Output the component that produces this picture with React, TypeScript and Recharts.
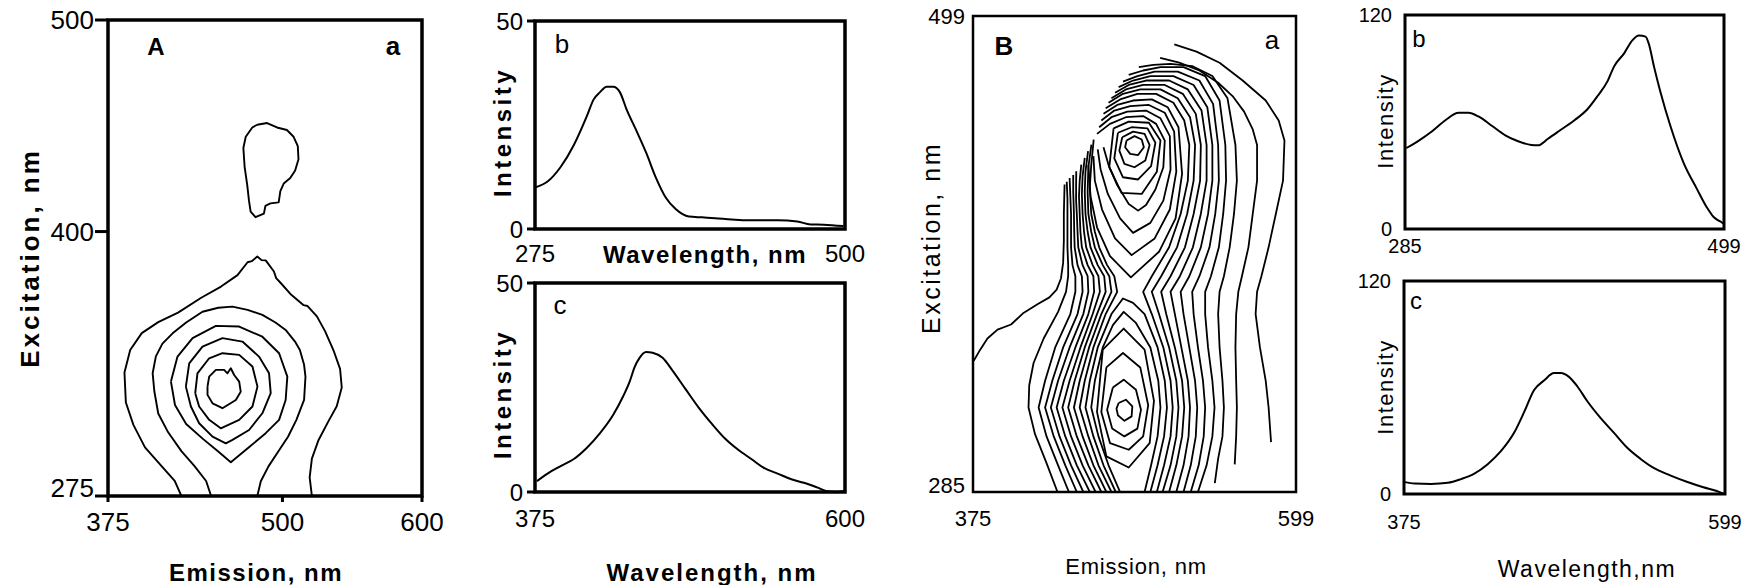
import { ComposedChart, Line, XAxis, YAxis, ReferenceArea, Label } from "recharts";

type Pt = [number, number];

// ---------- panel A(a): emission x excitation contour map
const A_EM_TICKS = [375, 500, 600];
const A_EX_TICKS = [275, 400, 500];

const A_ISLAND: Pt[] = [[481.9, 450.5], [489, 451.3], [496.1, 449.2], [503.2, 448], [508, 444.8], [511, 440.4], [511.5, 434.2], [509.1, 428.9], [505.6, 425.3], [500.9, 422.7], [498.5, 419.1], [497.3, 413.8], [491.4, 413.3], [487.8, 412.1], [486.7, 408.5], [480.7, 406.8], [477.2, 409.4], [476, 414.7], [474.8, 421.8], [472.9, 430.6], [472, 439.5], [473.7, 444.8], [478.4, 449.2], [481.9, 450.5]];
const A_C1: Pt[] = [[427.6, 275], [422.8, 282.1], [413.4, 289.1], [401.5, 298], [393.2, 308.6], [387.8, 319.2], [386.8, 333.4], [390.9, 344], [399.2, 352], [411, 357.2], [425.2, 361.7], [441.8, 368.7], [456, 374], [467.8, 379.4], [475, 385.5], [478, 386], [482, 388.2], [485, 386.5], [488, 386.4], [493.9, 381.1], [495.5, 378], [498.6, 375.8], [505.7, 370.5], [515.2, 365.2], [518, 364.8], [524.7, 359.9], [530.6, 352.8], [536.5, 344], [541.3, 335.1], [542.5, 326.3], [538.9, 317.4], [533, 310.4], [525.9, 301.5], [521.1, 292.7], [519.5, 283.8], [521.1, 275]];
const A_C2: Pt[] = [[448.9, 275], [445.3, 282.1], [437, 289.1], [427.6, 296.2], [418.1, 305.1], [411, 314], [408.2, 324.5], [407, 333], [409.3, 341], [414, 347], [421.3, 351.9], [431, 357], [442.7, 362.1], [454, 364], [464.2, 364.5], [475, 363], [485.6, 360.6], [495, 357], [502.3, 353.5], [509, 348], [512.5, 344], [515.5, 337], [516.5, 331.4], [515.5, 320.4], [510, 311], [504, 303], [497, 296], [490, 289], [484.5, 282], [482, 275]];
const A_C3: Pt[] = [[420.1, 329.1], [424.8, 340.9], [435.6, 349.6], [452.3, 355.4], [469, 355.1], [485.6, 350.3], [497.6, 342.5], [503.5, 331.4], [502.3, 320.4], [497.6, 311], [488, 304.7], [476, 298], [463, 291], [454, 296], [443, 302], [431, 309], [423, 318], [420.1, 329.1]];
const A_C4: Pt[] = [[430.8, 326.7], [433.2, 337.7], [442.7, 345.6], [457, 349.6], [471.3, 348], [483.2, 340.9], [490.4, 333], [491.6, 323.6], [485.6, 314.1], [476.1, 306.2], [464.2, 301.5], [459.4, 299.9], [449.9, 303.1], [440.3, 309.4], [434.4, 317.3], [430.8, 326.7]];
const A_C5: Pt[] = [[437.5, 323.6], [439.1, 333], [447.5, 340.1], [457, 342.5], [469, 341.7], [478.5, 336.2], [482.1, 326.7], [478.5, 317.3], [469, 311], [455.8, 307], [447.5, 311], [440.3, 317.3], [437.5, 323.6]];
const A_C6: Pt[] = [[446.3, 326.7], [447.5, 331.4], [452.3, 334.6], [458.2, 334.6], [460.6, 333], [463, 335.4], [465.4, 332.2], [469, 329.1], [470.1, 324.3], [466.6, 320.4], [457, 316.5], [449.9, 318.8], [446.3, 322.8], [446.3, 326.7]];

// ---------- panel A(b), A(c): spectra
const AB_WL = [275.5, 284.1, 293.6, 303.2, 312.7, 317.5, 322.2, 327, 331.8, 336.6, 341.3, 348.5, 355.6, 362.8, 370, 377.1, 386.7, 396.2, 405.8, 417.7, 429.6, 451.1, 465.4, 475, 484.5, 498.8];
const AB_INT = [10, 11.4, 14.9, 20.2, 27.2, 31.1, 32.9, 34.2, 34.2, 32.9, 28.9, 23.7, 18.4, 12.3, 7.5, 4.8, 3.0, 2.8, 2.6, 2.3, 2.1, 2.1, 1.8, 1.1, 1.05, 0.7];
const AC_WL = [376.4, 384.1, 393.6, 403.2, 412.7, 422.2, 431.8, 439, 443.7, 447.3, 450.9, 455.6, 460.4, 467.6, 474.7, 484.3, 493.8, 503.4, 512.9, 522.5, 532, 541.5, 551.1, 560.6, 570.2, 579.7, 586.9, 594, 598.8];
const AC_INT = [2.6, 4.4, 6.2, 7.9, 10.6, 14.1, 18.5, 22.9, 26.4, 29.9, 32.1, 33.5, 33.3, 32.1, 29.1, 24.6, 20.2, 16.3, 12.8, 10.1, 7.9, 5.7, 4.4, 3.1, 2.2, 1.1, 0.2, 0, 0.2];

// ---------- panel B(a): contour map
const B_U1: Pt[] = [[481.5, 443], [487, 445], [492, 443.5], [493.5, 440], [489.5, 436.5], [484, 437], [480.5, 440], [481.5, 443]];
const B_U2: Pt[] = [[478.5, 444.5], [486, 447], [494, 446], [497.5, 441], [494.5, 434], [487, 431], [480, 432.5], [476.5, 438.5], [478.5, 444.5]];
const B_U3: Pt[] = [[475.5, 446.5], [485, 449], [496, 448.5], [501.5, 442], [498.5, 431.5], [489.5, 425.5], [479, 426.5], [473, 435], [475.5, 446.5]];
const B_U4: Pt[] = [[472.5, 448.5], [483, 451.5], [497, 451], [505, 443], [502.5, 429], [492, 419], [478, 419.5], [469.5, 431], [472.5, 448.5]];
const B_U5: Pt[] = [[461, 446], [470, 450.5], [481, 453.5], [493, 454], [502, 450.5], [508, 443], [507, 431], [501.5, 421], [495, 414], [489.5, 411.5], [483, 414.5], [475, 423], [469, 432], [465.5, 440]];
const B_U6: Pt[] = [[462.5, 449], [471, 453.5], [482, 456], [495, 456.5], [505, 453], [511.5, 445], [512, 430], [507, 416], [498, 406], [486, 401.5], [477, 408], [468.5, 419], [463.5, 430], [461.5, 439]];
const B_U7: Pt[] = [[464, 452], [473, 456.5], [484, 458.5], [497, 459], [508, 455.5], [514.5, 447], [516, 429], [511.5, 412], [501, 399], [485, 391.5], [473.5, 399], [464.5, 412], [459.5, 425], [458.5, 436]];
const B_U8: Pt[] = [[465.5, 455], [475, 459], [486, 461], [499, 461.5], [510, 458], [517.5, 449], [520, 428], [515.5, 408], [504, 393], [484.5, 381.5], [470, 391], [461, 404], [456.5, 418], [455, 432]];

const B_E1R: Pt[] = [[467, 457.5], [477, 461.5], [489, 464], [502, 464], [514, 460], [521.5, 452], [525, 441], [524, 425], [519, 410], [511, 395], [499, 382], [493, 375], [499, 365], [507, 350], [512, 335], [513.5, 323], [512, 310], [507.5, 297], [502.5, 285]];
const B_E2R: Pt[] = [[469, 460], [479, 464], [491, 466], [505, 466], [517, 462], [525.5, 453.5], [529, 441], [528, 425], [523.5, 410], [516.5, 395], [505.5, 382], [499, 375], [504, 365], [511, 350], [516, 335], [517.5, 323], [516, 310], [512, 297], [506.5, 285]];
const B_E3R: Pt[] = [[471, 462], [481, 466], [493, 468], [508, 468], [520.5, 464], [529.5, 455], [533, 441], [532.5, 425], [528, 410], [522, 395], [512, 382], [505.5, 375], [509, 365], [515, 350], [520, 335], [521.5, 323], [520, 310], [516, 297], [511, 285]];
const B_E4R: Pt[] = [[473.5, 464.5], [483, 468], [495, 470], [511, 470], [524, 466], [533.5, 456.5], [537, 441], [537, 425], [533, 410], [527.5, 395], [518.5, 382], [512, 375], [515, 365], [519.5, 350], [524, 335], [525.5, 323], [524.5, 310], [521, 297], [516, 285]];
const B_E5R: Pt[] = [[476, 467], [486, 470], [498, 472], [514, 472], [528, 468], [537.5, 458], [541, 441], [541, 425], [538, 410], [533, 395], [525, 382], [519, 375], [521, 365], [525, 350], [529, 335], [530.5, 323], [529.5, 310], [526, 297], [521, 285]];
const B_E6R: Pt[] = [[479, 469.5], [489, 472], [501, 474], [517, 474], [532, 470], [541.5, 459.5], [545, 441], [545.5, 425], [543, 410], [539, 395], [532, 382], [527, 375], [528, 365], [531, 350], [534.5, 335], [536, 323], [535, 310], [531.5, 297], [526, 285]];
const B_E7R: Pt[] = [[483, 472.5], [493, 474.5], [505, 476], [521, 476], [536, 472], [546, 461], [550, 441], [550.5, 425], [548.5, 410], [545.5, 395], [540, 382], [536, 375], [536, 365], [538, 350], [541, 335], [542.5, 323], [541, 310], [537, 297], [531, 285]];
const B_E8R: Pt[] = [[490, 476], [500, 477], [512, 477.5], [527, 476.5], [541, 472], [551.5, 462], [557, 441], [558, 425], [556, 410], [553, 395], [549, 382], [546, 375], [545, 365], [546, 350], [548, 335], [549, 323], [548, 310], [545, 300], [542.7, 289]];
const B_E9R: Pt[] = [[504.8, 480.2], [518, 478], [532, 474.5], [545, 469], [555, 463], [563, 456], [569, 448], [572, 441], [572, 425], [569, 410], [566, 395], [561.5, 382], [559, 375], [557.5, 365], [557, 350], [557.5, 335], [558, 323], [557.5, 310], [556.5, 297.4]];
const B_E10R: Pt[] = [[514.6, 486.2], [530, 483], [546, 478], [562, 470], [578, 461], [587, 452], [591, 443], [590, 425], [585, 410], [580, 395], [575, 382], [572, 375], [571, 365], [574, 350], [578, 335], [580, 323], [581.7, 307.4]];

const B_E1L: Pt[] = [[458.7, 443.4], [457, 432], [456, 422], [457, 410], [459.5, 402], [462.5, 395], [468, 387], [473, 382], [475, 375], [467, 365], [458.5, 350], [452.5, 335], [449, 323], [455, 310], [462, 297], [471, 285]];
const B_E2L: Pt[] = [[457.1, 441.2], [455, 431], [454.5, 420], [455, 410], [457, 402], [459.5, 395], [465, 387], [469.5, 382], [471, 375], [464, 365], [455.5, 350], [449, 335], [445, 323], [451, 310], [458.5, 297], [467.5, 285]];
const B_E3L: Pt[] = [[454.8, 438.2], [453, 429], [452.5, 420], [453, 410], [454.5, 402], [456.5, 395], [461.5, 387], [466, 382], [467, 375], [461, 365], [452.5, 350], [445.5, 335], [441, 323], [447, 310], [455, 297], [464, 285]];
const B_E4L: Pt[] = [[452.5, 435.2], [451, 427], [450.5, 419], [451, 410], [452, 402], [453.5, 395], [458, 387], [462, 382], [463, 375], [458, 365], [449.5, 350], [442, 335], [437, 323], [443, 310], [451, 297], [460, 285]];
const B_E5L: Pt[] = [[450.1, 432.2], [449, 425], [448.5, 418], [449, 410], [449.5, 402], [450.5, 395], [454.5, 387], [458.5, 382], [459, 375], [455, 365], [446, 350], [438, 335], [433, 323], [439, 310], [447, 297], [456, 285]];
const B_E6L: Pt[] = [[446.6, 429.2], [446.5, 422], [446.5, 416], [447, 410], [447.5, 402], [448, 395], [451, 387], [454.5, 382], [455, 375], [451.5, 365], [442, 350], [434, 335], [429, 323], [435, 310], [443, 297], [451.5, 285]];
const B_E7L: Pt[] = [[444.5, 427.5], [444.5, 420], [445, 410], [445.2, 402], [445.5, 395], [447.5, 387], [450.5, 382], [451, 375], [447.5, 365], [437.5, 350], [430, 335], [425, 323], [431, 310], [439, 297], [447, 285]];
const B_E8L: Pt[] = [[442, 426.2], [442.5, 418], [443, 410], [443, 402], [443, 395], [444, 387], [446, 382], [446, 375], [442.5, 365], [432, 350], [425, 335], [420.5, 323], [426, 310], [434, 297], [441.5, 285]];
const B_E9L: Pt[] = [[440, 424.5], [440.5, 417], [440.5, 410], [440.5, 402], [440.5, 395], [441, 387], [441, 382], [439.5, 375], [434, 366], [424, 354], [417, 343], [414, 333], [413.5, 323], [418, 311], [426, 298], [433.6, 285]];
const B_E10L: Pt[] = [[438.5, 423.2], [438, 410], [438, 398], [437.5, 388], [436, 381], [433, 376], [428, 372.5], [420, 369.5], [410, 365.5], [401.4, 360.3], [392, 358], [385, 354], [380, 349], [375.5, 344]];

const B_LW1: Pt[] = [[476, 325], [481, 326.5], [485.5, 323.5], [485, 319], [480, 317], [475.5, 319.5], [474.5, 322.5], [476, 325]];
const B_LW2: Pt[] = [[472, 332], [479.5, 335.5], [488, 331], [491.5, 322], [489, 313.5], [480, 310], [471.5, 313.5], [468, 322], [472, 332]];
const B_LW3: Pt[] = [[467.5, 341], [479, 347.5], [491, 341], [496.5, 324], [493, 310], [483, 304], [470, 307], [464, 321], [467.5, 341]];
const B_LW4: Pt[] = [[465, 349], [479.5, 358.5], [494, 349], [500.5, 326], [497.5, 307], [483, 296], [467.5, 301], [461, 321], [465, 349]];
const B_LO1: Pt[] = [[477, 285], [469, 297], [462, 310], [457, 323], [459.5, 335], [465, 350], [472, 360], [479.5, 366], [488, 361], [498, 350], [503.5, 335], [505, 323], [503, 310], [498.5, 297], [494, 285]];
const B_LO2: Pt[] = [[474, 285], [465.5, 297], [458.5, 310], [453, 323], [456, 335], [461.5, 350], [471, 365], [479, 372], [486, 370], [494, 365], [503, 350], [508, 335], [509.5, 323], [507.5, 310], [503, 297], [498, 285]];

// ---------- panel B(b), B(c): spectra
const BB_WL = [285.9, 294.3, 303.2, 312.1, 321, 327.6, 334.3, 343.2, 352, 360.9, 369.8, 374.2, 380.9, 389.8, 398.7, 407.5, 414.2, 420.9, 425.3, 432, 437.5, 442, 446.4, 448.6, 452, 456.4, 463, 471.9, 480.8, 487.5, 491.9, 495.2, 497.5, 498.6];
const BB_INT = [45.4, 49.6, 54.8, 61, 65.2, 65.2, 63.1, 57.9, 52.7, 49.2, 47.1, 46.9, 50.6, 55.8, 61, 67.3, 74.6, 82.9, 91.2, 98.5, 105.8, 108.5, 107.9, 103.7, 91.2, 76.7, 57.9, 37.1, 22.5, 12.1, 6.9, 4.8, 3.7, 3.1];
const BC_WL = [375.5, 382.4, 394, 405.6, 414.8, 424.1, 433.4, 442.6, 451.9, 458.8, 465.8, 472.7, 479.7, 484.3, 490.1, 495.9, 502.8, 512.1, 521.4, 530.6, 539.9, 549.2, 560.7, 572.3, 583.9, 593.2, 598.3];
const BC_INT = [6.7, 5.9, 5.7, 6.3, 8.4, 11.5, 16.8, 24.1, 34.6, 46.1, 58.6, 63.9, 68.1, 68.1, 66, 60.7, 52.4, 42.9, 34.6, 26.2, 19.9, 14.7, 10.5, 6.9, 3.8, 1.7, 0];

const W = 1748;
const H = 585;
const YW = 60;
const XH = 40;
const FONT = "'Liberation Sans', Arial, sans-serif";

type Box = { l: number; r: number; t: number; b: number };
type Txt = { s: string; x: number; y: number; size: number; bold?: boolean; rot?: boolean; ls?: number };

const toPts = (pts: Pt[]) => pts.map(([x, y]) => ({ x, y }));
const zip = (xs: number[], ys: number[]) => xs.map((x, i) => ({ x, y: ys[i] }));

function textLabel(t: Txt, key: string) {
  return (
    <Label
      key={key}
      content={() => (
        <text
          x={t.x}
          y={t.y}
          textAnchor="middle"
          dominantBaseline="central"
          fontFamily={FONT}
          fontSize={t.size}
          fontWeight={t.bold ? 700 : 400}
          letterSpacing={t.ls ?? 0}
          fill="#000"
          transform={t.rot ? `rotate(-90 ${t.x} ${t.y})` : undefined}
        >
          {t.s}
        </text>
      )}
    />
  );
}

interface PanelProps {
  box: Box;
  xDomain: [number, number];
  yDomain: [number, number];
  xTicks: number[];
  yTicks: number[];
  series: { x: number; y: number }[][];
  curve: "linear" | "monotone";
  frame: number;
  lineWidth: number;
  tickFont: number;
  xTickSize: number;
  xTickMargin: number;
  yTickSize: number;
  yTickMargin: number;
  lowLift?: number;
  texts: Txt[];
}

function Panel(p: PanelProps) {
  const lift = p.lowLift ?? 0;
  return (
    <div style={{ position: "absolute", left: 0, top: 0 }}>
      <ComposedChart
        width={W}
        height={H}
        margin={{ top: p.box.t, left: p.box.l - YW, right: W - p.box.r, bottom: H - p.box.b - XH }}
      >
        <XAxis
          type="number"
          dataKey="x"
          domain={p.xDomain}
          ticks={p.xTicks}
          interval={0}
          allowDataOverflow
          axisLine={false}
          height={XH}
          tickSize={p.xTickSize}
          tickLine={p.xTickSize > 0 ? { stroke: "#000", strokeWidth: 3 } : false}
          tickMargin={p.xTickMargin}
          tick={{ fontSize: p.tickFont, fill: "#000", fontFamily: FONT }}
        />
        <YAxis
          type="number"
          dataKey="y"
          domain={p.yDomain}
          ticks={p.yTicks}
          interval={0}
          allowDataOverflow
          axisLine={false}
          width={YW}
          tickSize={p.yTickSize}
          tickLine={p.yTickSize > 0 ? { stroke: "#000", strokeWidth: 3 } : false}
          tickMargin={p.yTickMargin}
          tick={(t: any) => (
            <text
              x={t.x}
              y={t.y - (t.payload.value === p.yDomain[0] ? lift : 0)}
              textAnchor="end"
              dominantBaseline="central"
              fontFamily={FONT}
              fontSize={p.tickFont}
              fill="#000"
            >
              {t.payload.value}
            </text>
          )}
        />
        {p.series.map((d, i) => (
          <Line
            key={i}
            data={d}
            dataKey="y"
            type={p.curve}
            dot={false}
            activeDot={false}
            stroke="#000"
            strokeWidth={p.lineWidth}
            strokeLinejoin="round"
            isAnimationActive={false}
          />
        ))}
        <ReferenceArea
          x1={p.xDomain[0]}
          x2={p.xDomain[1]}
          y1={p.yDomain[0]}
          y2={p.yDomain[1]}
          fill="none"
          fillOpacity={0}
          stroke="#000"
          strokeWidth={p.frame}
          ifOverflow="visible"
        >
          {p.texts.map((t, i) => textLabel(t, `t${i}`))}
        </ReferenceArea>
      </ComposedChart>
    </div>
  );
}

export default function App() {
  const aContours = [A_ISLAND, A_C1, A_C2, A_C3, A_C4, A_C5, A_C6].map(toPts);
  const bContours = [
    B_U1, B_U2, B_U3, B_U4, B_U5, B_U6, B_U7, B_U8,
    B_E1R, B_E2R, B_E3R, B_E4R, B_E5R, B_E6R, B_E7R, B_E8R, B_E9R, B_E10R,
    B_E1L, B_E2L, B_E3L, B_E4L, B_E5L, B_E6L, B_E7L, B_E8L, B_E9L, B_E10L,
    B_LW1, B_LW2, B_LW3, B_LW4, B_LO1, B_LO2,
  ].map(toPts);

  return (
    <div style={{ position: "relative", width: W, height: H, background: "#fff", overflow: "hidden" }}>
      <style>{"body{margin:0;background:#fff}"}</style>

      <Panel
        box={{ l: 108, r: 422, t: 20, b: 496 }}
        xDomain={[375, 600]}
        yDomain={[275, 500]}
        xTicks={A_EM_TICKS}
        yTicks={A_EX_TICKS}
        series={aContours}
        curve="linear"
        frame={3.5}
        lineWidth={1.9}
        tickFont={26}
        xTickSize={6}
        xTickMargin={11}
        yTickSize={13}
        yTickMargin={1}
        lowLift={8}
        texts={[
          { s: "Excitation, nm", x: 30, y: 258, size: 26, bold: true, rot: true, ls: 3 },
          { s: "Emission, nm", x: 256, y: 572, size: 24, bold: true, ls: 1.5 },
          { s: "A", x: 156, y: 46, size: 24, bold: true },
          { s: "a", x: 393, y: 46, size: 26, bold: true },
        ]}
      />

      <Panel
        box={{ l: 535, r: 845, t: 21, b: 229 }}
        xDomain={[275, 500]}
        yDomain={[0, 50]}
        xTicks={[275, 500]}
        yTicks={[0, 50]}
        series={[zip(AB_WL, AB_INT)]}
        curve="monotone"
        frame={3.5}
        lineWidth={2}
        tickFont={24}
        xTickSize={0}
        xTickMargin={16}
        yTickSize={8}
        yTickMargin={4}
        texts={[
          { s: "Intensity", x: 502, y: 132, size: 24, bold: true, rot: true, ls: 3.5 },
          { s: "Wavelength, nm", x: 705, y: 254, size: 24, bold: true, ls: 1.5 },
          { s: "b", x: 562, y: 44, size: 26 },
        ]}
      />

      <Panel
        box={{ l: 535, r: 845, t: 283, b: 492 }}
        xDomain={[375, 600]}
        yDomain={[0, 50]}
        xTicks={[375, 600]}
        yTicks={[0, 50]}
        series={[zip(AC_WL, AC_INT)]}
        curve="monotone"
        frame={3.5}
        lineWidth={2}
        tickFont={24}
        xTickSize={0}
        xTickMargin={18}
        yTickSize={8}
        yTickMargin={4}
        texts={[
          { s: "Intensity", x: 502, y: 394, size: 24, bold: true, rot: true, ls: 3.5 },
          { s: "Wavelength, nm", x: 712, y: 572, size: 24, bold: true, ls: 2 },
          { s: "c", x: 560, y: 305, size: 26 },
        ]}
      />

      <Panel
        box={{ l: 973, r: 1296, t: 16, b: 492 }}
        xDomain={[375, 599]}
        yDomain={[285, 499]}
        xTicks={[375, 599]}
        yTicks={[285, 499]}
        series={bContours}
        curve="linear"
        frame={2.5}
        lineWidth={1.8}
        tickFont={22}
        xTickSize={0}
        xTickMargin={18}
        yTickSize={0}
        yTickMargin={8}
        lowLift={7}
        texts={[
          { s: "Excitation, nm", x: 931, y: 238, size: 25, rot: true, ls: 2.5 },
          { s: "Emission, nm", x: 1136, y: 566, size: 22, ls: 0.8 },
          { s: "B", x: 1004, y: 46, size: 26, bold: true },
          { s: "a", x: 1272, y: 40, size: 26 },
        ]}
      />

      <Panel
        box={{ l: 1405, r: 1724, t: 15, b: 229 }}
        xDomain={[285, 499]}
        yDomain={[0, 120]}
        xTicks={[285, 499]}
        yTicks={[0, 120]}
        series={[zip(BB_WL, BB_INT)]}
        curve="monotone"
        frame={3}
        lineWidth={2}
        tickFont={20}
        xTickSize={0}
        xTickMargin={10}
        yTickSize={0}
        yTickMargin={13}
        texts={[
          { s: "Intensity", x: 1385, y: 121, size: 22, rot: true, ls: 1.5 },
          { s: "b", x: 1419, y: 38, size: 24 },
        ]}
      />

      <Panel
        box={{ l: 1404, r: 1725, t: 281, b: 494 }}
        xDomain={[375, 599]}
        yDomain={[0, 120]}
        xTicks={[375, 599]}
        yTicks={[0, 120]}
        series={[zip(BC_WL, BC_INT)]}
        curve="monotone"
        frame={3}
        lineWidth={2}
        tickFont={20}
        xTickSize={0}
        xTickMargin={21}
        yTickSize={0}
        yTickMargin={13}
        texts={[
          { s: "Intensity", x: 1385, y: 387, size: 22, rot: true, ls: 1.5 },
          { s: "Wavelength,nm", x: 1587, y: 569, size: 23, ls: 1.5 },
          { s: "c", x: 1416, y: 300, size: 24 },
        ]}
      />
    </div>
  );
}
